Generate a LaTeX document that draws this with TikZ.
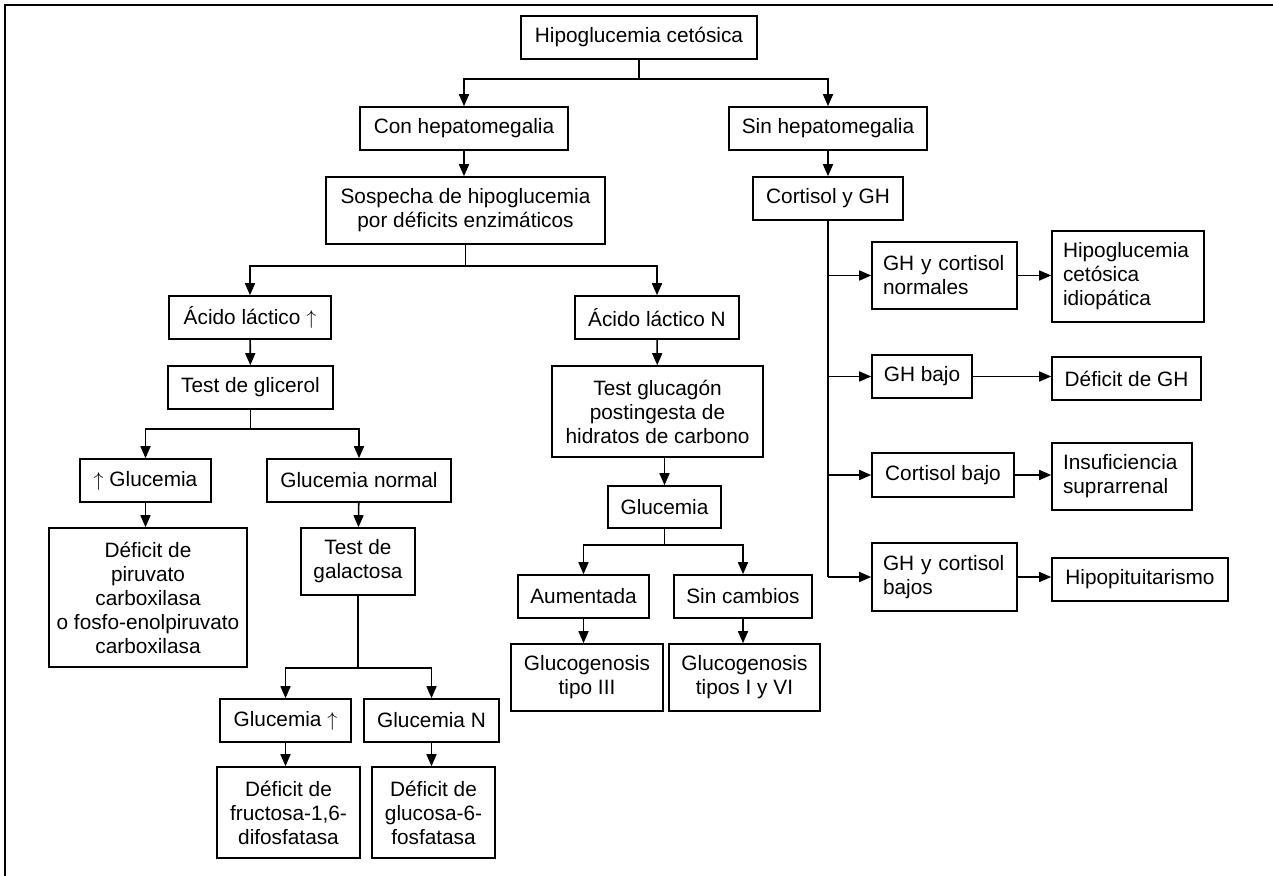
\documentclass[tikz,border=0pt]{standalone}
\usepackage{fontspec}
\setmainfont{Liberation Sans}
\usepackage{tikz}
\usetikzlibrary{arrows.meta}

\begin{document}
\begin{tikzpicture}[x=0.5pt,y=-0.5pt,
  line width=0.8pt,
  box/.style={draw,align=center,inner sep=0pt,font=\fontsize{10.4}{12}\selectfont},
  sz/.style 2 args={minimum width=#1*0.5pt,minimum height=#2*0.5pt},
  lbox/.style={draw,align=left,inner xsep=5.5pt,inner ysep=0pt,minimum height=#1*0.5pt,font=\fontsize{10.4}{12}\selectfont},
  arr/.style={-{Triangle[length=6pt,width=5pt]}}]
\useasboundingbox (0,0) rectangle (1273,876);

% frame
\draw[line width=1pt] (1273,5) -- (5,5) -- (5,876);

% top of the tree
\node[box,sz={236}{43}] (root) at (639,37.5) {Hipoglucemia cetósica};
\node[box,sz={208}{43}] (con) at (464,128.5) {Con hepatomegalia};
\node[box,sz={198}{43}] (sin) at (828,128.5) {Sin hepatomegalia};
\node[box,sz={279}{67}] (sosp) at (465.5,210.5) {Sospecha de hipoglucemia\\por déficits enzimáticos};
\node[box,sz={150}{43}] (cort) at (828,198.5) {Cortisol y GH};

% left branch
\node[box,sz={162}{43}] (acA) at (250,317.5) {Ácido láctico $\uparrow$};
\node[box,sz={165}{43}] (glic) at (250.5,387.5) {Test de glicerol};
\node[box,sz={131}{43}] (glA) at (145.5,480.5) {$\uparrow$ Glucemia};
\node[box,sz={184}{43}] (glNorm) at (359,480.5) {Glucemia normal};
\node[box,sz={198}{139}] (piru) at (148,597.5) {Déficit de\\piruvato\\carboxilasa\\o fosfo-enolpiruvato\\carboxilasa};
\node[box,sz={114}{67}] (galac) at (358,561.5) {Test de\\galactosa};
\node[box,sz={131}{43}] (gluUp) at (285.5,720.5) {Glucemia $\uparrow$};
\node[box,sz={135}{43}] (gluN) at (431.5,720.5) {Glucemia N};
\node[box,sz={143}{91}] (fruc) at (288.5,812.5) {Déficit de\\fructosa-1,6-\\difosfatasa};
\node[box,sz={123}{91}] (gluc6) at (433.5,812.5) {Déficit de\\glucosa-6-\\fosfatasa};

% middle branch
\node[box,sz={164}{43}] (acN) at (657,317.5) {Ácido láctico N};
\node[box,sz={211}{91}] (tglu) at (657.5,411.5) {Test glucagón\\postingesta de\\hidratos de carbono};
\node[box,sz={113}{42}] (glu) at (664.5,507) {Glucemia};
\node[box,sz={131}{43}] (aum) at (583.5,596.5) {Aumentada};
\node[box,sz={138}{43}] (sinc) at (743,596.5) {Sin cambios};
\node[box,sz={152}{67}] (gIII) at (587,677.5) {Glucogenosis\\tipo III};
\node[box,sz={151}{67}] (gIVI) at (744.5,677.5) {Glucogenosis\\tipos I y VI};

% right branch
\node[lbox=67,text width=61.5pt] (ghn) at (944.5,275.5) {GH y cortisol\\normales};
\node[lbox=91,text width=65pt] (idio) at (1128,276.5) {Hipoglucemia\\cetósica\\idiopática};
\node[box,sz={100}{43}] (ghb) at (922,376.5) {GH bajo};
\node[box,sz={149}{43}] (dgh) at (1126.5,378.5) {Déficit de GH};
\node[box,sz={142}{44}] (cob) at (943,475) {Cortisol bajo};
\node[lbox=67,text width=59pt] (insu) at (1122,476.5) {Insuficiencia\\suprarrenal};
\node[lbox=68,text width=61.5pt] (ghcb) at (944.5,577) {GH y cortisol\\bajos};
\node[box,sz={176}{43}] (hipo) at (1140,579.5) {Hipopituitarismo};

% junctions
\coordinate (j1) at (639,79);
\coordinate (j2) at (465.5,266);
\coordinate (j3) at (250.5,429);
\coordinate (j4) at (358,668);
\coordinate (j5) at (664.5,545);

% connectors
\draw (root) -- (j1);
\draw[arr] (j1) -| (con);
\draw[arr] (j1) -| (sin);
\draw[arr] (con) -- (con |- sosp.north);
\draw[arr] (sin) -- (cort);

\draw (sosp) -- (j2);
\draw[arr] (j2) -| (acA);
\draw[arr] (j2) -| (acN);
\draw[arr] (acA) -- (glic);
\draw (glic) -- (j3);
\draw[arr] (j3) -| (glA);
\draw[arr] (j3) -| (glNorm);
\draw[arr] (glA) -- (glA |- piru.north);
\draw[arr] (glNorm) -- (galac);
\draw (galac) -- (j4);
\draw[arr] (j4) -| (gluUp);
\draw[arr] (j4) -| (gluN);
\draw[arr] (gluUp) -- (gluUp |- fruc.north);
\draw[arr] (gluN) -- (gluN |- gluc6.north);

\draw[arr] (acN) -- (tglu);
\draw[arr] (glu |- tglu.south) -- (glu);
\draw (glu) -- (j5);
\draw[arr] (j5) -| (aum);
\draw[arr] (j5) -| (sinc);
\draw[arr] (aum) -- (aum |- gIII.north);
\draw[arr] (sinc) -- (sinc |- gIVI.north);

\draw (cort) -- (cort |- ghcb);
\foreach \n in {ghn,ghb,cob,ghcb}
  \draw[arr] (cort |- \n) -- (\n);
\draw[arr] (ghn) -- (idio.west |- ghn);
\draw[arr] (ghb) -- (dgh.west |- ghb);
\draw[arr] (cob) -- (insu.west |- cob);
\draw[arr] (ghcb) -- (hipo.west |- ghcb);
\end{tikzpicture}
\end{document}
